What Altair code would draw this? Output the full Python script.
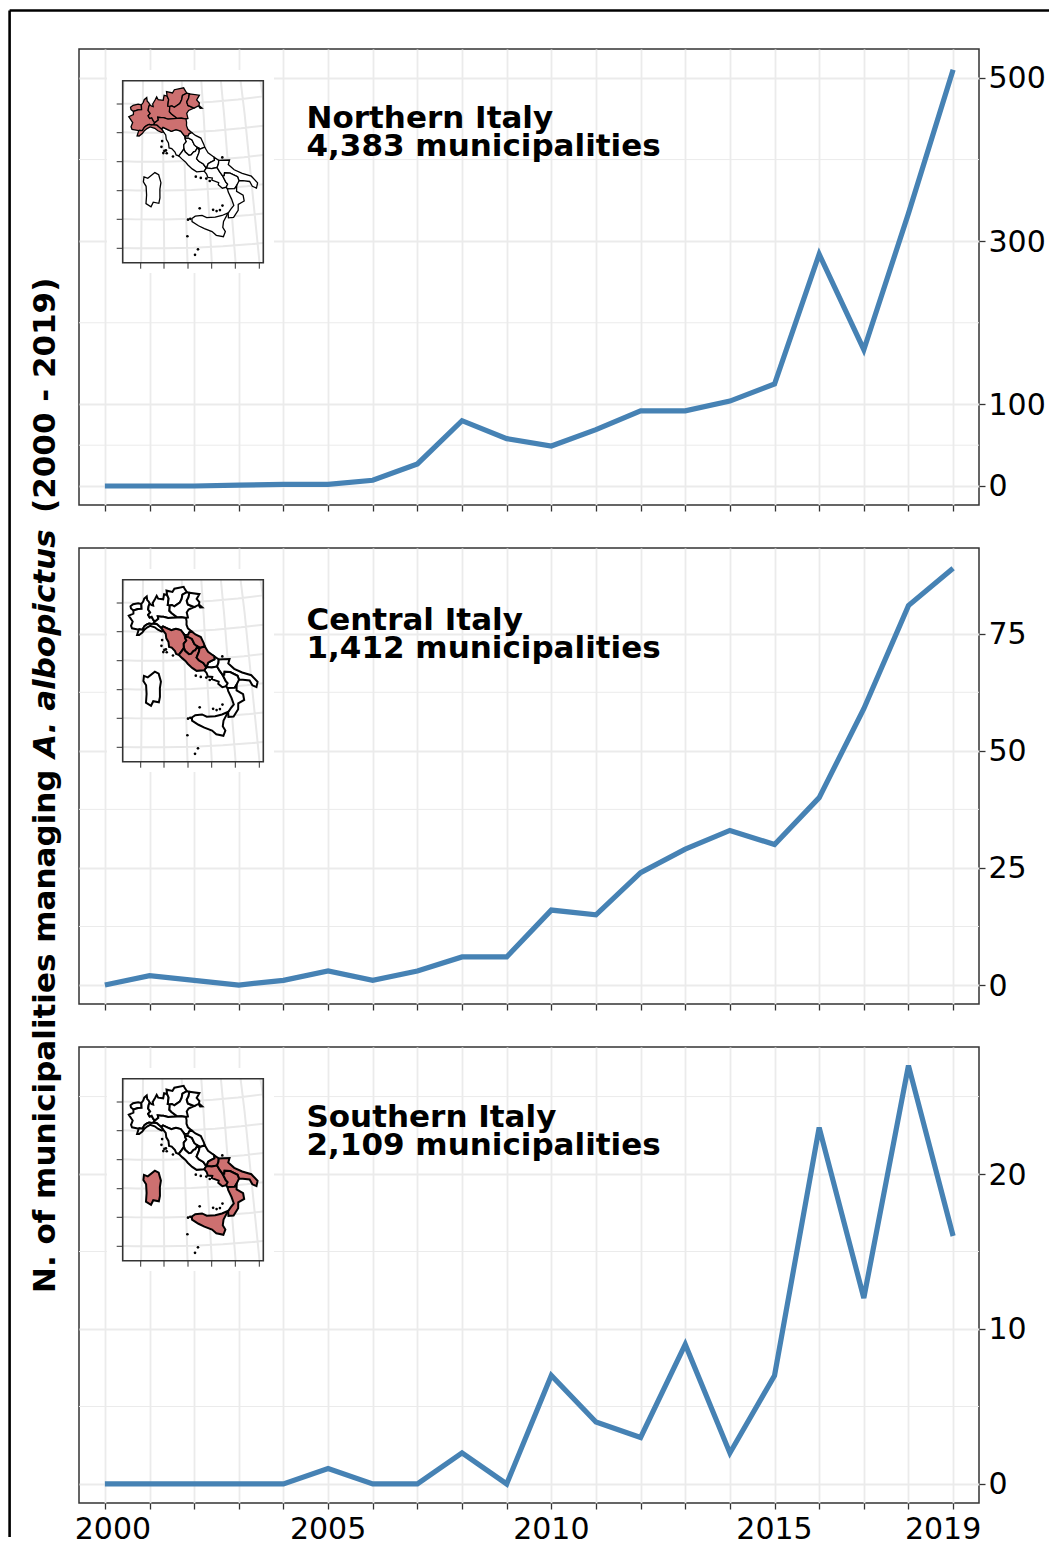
import altair as alt

YEARS = list(range(2000, 2020))
NORTH = [0, 0, 0, 1, 2, 2, 7, 27, 80, 58, 49, 69, 92, 92, 104, 125, 284, 167, 334, 510]
CENTRAL = [0, 2, 1, 0, 1, 3, 1, 3, 6, 6, 16, 15, 24, 29, 33, 30, 40, 59, 81, 89]
SOUTH = [0, 0, 0, 0, 0, 1, 0, 0, 2, 0, 7, 4, 3, 9, 2, 7, 23, 12, 27, 16]

NORTH_TICKS = [0, 100, 300, 500]
CENTRAL_TICKS = [0, 25, 50, 75]
SOUTH_TICKS = [0, 10, 20]
NORTH_MINOR = [50, 200, 400]
CENTRAL_MINOR = [12.5, 37.5, 62.5]
SOUTH_MINOR = [5, 15, 25]
NORTH_DOMAIN = [-23.3, 535.5]
CENTRAL_DOMAIN = [-4.05, 93.3]
SOUTH_DOMAIN = [-1.23, 28.2]
CENTER_LABEL_YEARS = [2005, 2010, 2015]

# Region outlines, longitude / latitude
AOSTA = [(6.8,45.75),(7.05,45.9),(7.55,45.98),(7.87,45.93),(7.9,45.6),(7.55,45.58),(7.1,45.47),(6.85,45.6)]
PIEMONTE = [(7.1,45.47),(7.55,45.58),(7.9,45.6),(7.87,45.93),(8.05,46.1),(8.15,46.3),(8.4,46.45),(8.45,46.2),(8.6,46.1),(8.7,45.95),(8.6,45.8),(8.55,45.55),(8.75,45.35),(8.55,45.18),(8.7,45.0),(8.9,45.05),(9.05,44.85),(9.2,44.7),(9.1,44.58),(8.9,44.55),(8.65,44.58),(8.4,44.5),(8.2,44.4),(8.0,44.15),(7.7,44.17),(7.65,44.15),(7.0,44.23),(6.9,44.4),(7.05,44.7),(6.75,45.0),(6.65,45.1),(7.1,45.25)]
LIGURIA = [(7.5,43.78),(7.7,43.78),(8.0,43.95),(8.2,44.15),(8.45,44.3),(8.75,44.42),(9.2,44.32),(9.5,44.15),(9.85,44.03),(10.05,44.05),(9.85,44.27),(9.6,44.42),(9.4,44.55),(9.1,44.58),(8.9,44.55),(8.65,44.58),(8.4,44.5),(8.2,44.4),(8.0,44.15),(7.7,44.17),(7.65,44.15)]
LOMBARDIA = [(8.55,45.55),(8.6,45.8),(8.7,45.95),(8.9,45.85),(9.05,45.82),(9.0,46.0),(9.25,46.3),(9.4,46.5),(9.55,46.3),(10.05,46.25),(10.15,46.6),(10.45,46.55),(10.6,46.3),(10.55,46.1),(10.5,45.85),(10.7,45.82),(10.65,45.45),(10.85,45.3),(11.2,45.1),(11.4,44.98),(10.5,44.95),(10.05,45.05),(9.85,45.05),(9.5,45.08),(9.55,44.9),(9.2,44.7),(9.05,44.85),(8.9,45.05),(8.7,45.0),(8.55,45.18),(8.75,45.35)]
TRENTINO = [(10.45,46.55),(10.4,46.85),(11.0,46.75),(11.2,46.97),(12.15,47.08),(12.2,47.0),(12.45,46.7),(12.0,46.55),(11.9,46.25),(11.7,46.0),(11.15,45.75),(10.9,45.85),(10.7,45.82),(10.5,45.85),(10.55,46.1),(10.6,46.3)]
VENETO = [(12.45,46.7),(12.7,46.65),(12.6,46.35),(12.4,46.1),(12.5,45.85),(13.1,45.65),(12.55,45.5),(12.35,45.3),(12.45,44.95),(12.25,44.92),(11.8,44.98),(11.4,44.98),(11.2,45.1),(10.85,45.3),(10.65,45.45),(10.7,45.82),(10.9,45.85),(11.15,45.75),(11.7,46.0),(11.9,46.25),(12.0,46.55)]
FRIULI = [(12.7,46.65),(13.7,46.52),(13.4,46.2),(13.65,45.98),(13.6,45.8),(13.9,45.6),(13.7,45.6),(13.55,45.78),(13.1,45.65),(12.5,45.85),(12.4,46.1),(12.6,46.35)]
EMILIA = [(9.2,44.7),(9.55,44.9),(9.5,45.08),(9.85,45.05),(10.05,45.05),(10.5,44.95),(11.4,44.98),(11.8,44.98),(12.25,44.92),(12.3,44.7),(12.28,44.45),(12.4,44.2),(12.75,43.97),(12.5,43.9),(12.4,43.75),(12.05,43.75),(11.7,44.1),(11.25,44.2),(10.8,44.1),(10.45,44.22),(10.0,44.38),(9.85,44.27),(9.6,44.42),(9.4,44.55),(9.1,44.58)]
TOSCANA = [(10.05,44.05),(10.25,43.85),(10.3,43.55),(10.5,43.3),(10.55,42.95),(10.8,42.9),(11.1,42.65),(11.2,42.45),(11.45,42.38),(11.75,42.65),(11.95,42.85),(11.95,43.15),(12.2,43.35),(12.1,43.55),(12.2,43.6),(12.05,43.75),(11.7,44.1),(11.25,44.2),(10.8,44.1),(10.45,44.22),(10.0,44.38),(9.85,44.27)]
UMBRIA = [(12.05,43.75),(12.2,43.6),(12.4,43.6),(12.75,43.45),(12.95,43.1),(13.25,42.9),(13.0,42.65),(12.85,42.62),(12.6,42.42),(12.4,42.4),(12.05,42.65),(11.95,42.85),(11.95,43.15),(12.2,43.35),(12.1,43.55)]
MARCHE = [(12.05,43.75),(12.4,43.75),(12.5,43.9),(12.75,43.97),(13.1,43.75),(13.6,43.55),(13.85,43.1),(13.92,42.9),(13.5,42.8),(13.25,42.9),(12.95,43.1),(12.75,43.45),(12.4,43.6),(12.2,43.6)]
LAZIO = [(11.45,42.38),(11.75,42.15),(12.05,41.95),(12.25,41.75),(12.65,41.45),(13.05,41.23),(13.75,41.25),(13.95,41.45),(13.7,41.75),(13.3,41.95),(13.1,42.15),(13.35,42.55),(13.4,42.7),(13.25,42.9),(13.0,42.65),(12.85,42.62),(12.6,42.42),(12.4,42.4),(12.05,42.65),(11.95,42.85),(11.75,42.65)]
ABRUZZO = [(13.92,42.9),(14.2,42.5),(14.75,42.17),(14.75,41.95),(14.4,41.85),(14.15,41.75),(14.0,41.5),(13.95,41.45),(13.7,41.75),(13.3,41.95),(13.1,42.15),(13.35,42.55),(13.4,42.7),(13.25,42.9),(13.5,42.8)]
MOLISE = [(14.75,42.17),(15.15,41.93),(15.1,41.7),(14.95,41.45),(14.45,41.4),(14.05,41.45),(14.0,41.5),(14.15,41.75),(14.4,41.85),(14.75,41.95)]
CAMPANIA = [(13.75,41.25),(13.95,41.05),(14.05,40.8),(14.45,40.75),(14.4,40.6),(15.0,40.4),(14.95,40.25),(15.3,40.0),(15.65,40.05),(15.8,40.25),(15.65,40.4),(15.4,40.85),(15.15,41.15),(15.05,41.3),(14.95,41.45),(14.45,41.4),(14.05,41.45),(13.95,41.45)]
PUGLIA = [(15.15,41.93),(15.55,41.92),(16.15,41.9),(16.0,41.6),(16.5,41.2),(17.2,40.9),(18.0,40.65),(18.5,40.15),(18.35,39.8),(18.0,39.95),(17.8,40.3),(17.2,40.4),(16.85,40.42),(16.75,40.7),(16.1,41.0),(15.6,41.05),(15.55,40.85),(15.4,40.85),(15.15,41.15),(15.05,41.3),(14.95,41.45),(15.1,41.7)]
BASILICATA = [(15.4,40.85),(15.55,40.85),(15.6,41.05),(16.1,41.0),(16.75,40.7),(16.85,40.42),(16.6,40.1),(16.4,39.9),(15.75,39.92),(15.65,40.05),(15.8,40.25),(15.65,40.4)]
CALABRIA = [(15.75,39.92),(16.4,39.9),(16.6,40.1),(16.55,39.7),(17.1,39.4),(17.15,39.0),(16.6,38.8),(16.55,38.4),(16.1,37.93),(15.65,37.93),(15.65,38.25),(15.9,38.5),(16.2,38.75),(16.05,39.2),(15.8,39.7)]
SICILIA = [(15.65,38.27),(15.1,38.12),(14.5,38.03),(13.75,38.03),(13.35,38.2),(12.75,38.17),(12.45,38.02),(12.45,37.8),(13.0,37.5),(13.5,37.28),(14.15,37.05),(14.5,36.78),(15.1,36.65),(15.3,37.0),(15.1,37.3),(15.2,37.7)]
SARDEGNA = [(8.2,40.95),(8.55,40.85),(9.2,41.25),(9.55,41.1),(9.75,40.55),(9.65,40.1),(9.65,39.5),(9.55,39.12),(9.05,39.2),(8.85,38.88),(8.4,39.1),(8.45,39.7),(8.4,40.3),(8.15,40.6)]

ISLAND_LON = [10.25, 10.1, 9.83, 9.9, 10.9, 10.32, 10.0, 12.95, 13.4, 13.9, 14.2, 15.5, 12.1, 12.3, 13.17, 14.35, 14.95, 15.2, 14.65, 12.0, 12.6, 12.87]
ISLAND_LAT = [42.78, 42.75, 43.03, 43.43, 42.35, 42.58, 42.6, 40.9, 40.8, 40.73, 40.55, 42.12, 37.95, 38.0, 38.7, 38.55, 38.5, 38.8, 38.45, 36.8, 35.5, 35.87]

NORTH_REGIONS = [AOSTA, PIEMONTE, LIGURIA, LOMBARDIA, TRENTINO, VENETO, FRIULI, EMILIA]
CENTRAL_REGIONS = [TOSCANA, UMBRIA, MARCHE, LAZIO, ABRUZZO]
SOUTH_REGIONS = [MOLISE, CAMPANIA, PUGLIA, BASILICATA, CALABRIA, SICILIA, SARDEGNA]

INSET_LEFT_TICKS = [55, 83.7, 112.7, 141.7, 170.3, 199.3]
INSET_BOTTOM_TICKS = [61.7, 85, 109, 132.7, 156.3, 180.3]

W, H = 900, 456
BLANK = alt.Data(values=[{}])
FONT = "DejaVu Sans"


def feature(ring, shaded):
    area = sum(ring[i][0] * ring[(i + 1) % len(ring)][1] - ring[(i + 1) % len(ring)][0] * ring[i][1]
               for i in range(len(ring)))
    pts = list(ring) + [ring[0]]
    if area > 0:  # exterior rings must run clockwise on the sphere
        pts = pts[::-1]
    return {"type": "Feature", "properties": {"shaded": shaded},
            "geometry": {"type": "Polygon", "coordinates": [[list(p) for p in pts]]}}


def region_data(shaded_regions, others):
    feats = [feature(r, 0) for r in others] + [feature(r, 1) for r in shaded_regions]
    return alt.Data(values=feats)


def panel(values, domain, ticks, minor, shaded, others, line1, line2, ty, stroke, bottom=False, extra=None):
    proj = alt.Projection(type="transverseMercator", rotate=[-9, 0], scale=827,
                          translate=[73.7, 719],
                          clipExtent=[[43.7, 31.7], [184.3, 213.7]])
    xs = alt.Scale(domain=[1999.42, 2019.58], nice=False, zero=False)
    ys = alt.Scale(domain=domain, nice=False, zero=False)
    xaxis = alt.Axis(values=YEARS, labels=False, title=None, tickSize=6, tickColor="#333333", tickWidth=1.3,
                     domain=False, grid=True, gridColor="#ebebeb", gridWidth=1.8)
    yaxis = alt.Axis(values=ticks, orient="right", title=None, tickSize=6, tickColor="#333333", tickWidth=1.3,
                     domain=False, grid=True, gridColor="#ebebeb", gridWidth=1.8, labelFont=FONT,
                     labelFontSize=30, labelColor="black", labelPadding=3, labelOffset=1, format="d")
    rows = [{"year": y, "v": v} for y, v in zip(YEARS, values)]

    minor_layer = alt.Chart(alt.Data(values=[{"m": m} for m in minor])).mark_rule(
        color="#ebebeb", strokeWidth=1).encode(y=alt.Y("m:Q", scale=ys, axis=yaxis))
    white = alt.Chart(BLANK).mark_rect(color="white").encode(
        x=alt.value(28), x2=alt.value(195), y=alt.value(21), y2=alt.value(224))
    grat = alt.Chart(alt.graticule(step=[2, 2])).mark_geoshape(
        filled=False, stroke="#e8e8e8", strokeWidth=2).project(**proj.to_dict())
    shapes_w = alt.Chart(region_data([], others)).mark_geoshape(
        fill="white", stroke="black", strokeWidth=stroke).project(**proj.to_dict())
    shapes_s = alt.Chart(region_data(shaded, [])).mark_geoshape(
        fill="#cd7070", stroke="black", strokeWidth=stroke).project(**proj.to_dict())
    isl = alt.Chart(alt.Data(values=[{"lon": a, "lat": b} for a, b in zip(ISLAND_LON, ISLAND_LAT)])).mark_circle(
        color="black", size=7, opacity=1).encode(longitude="lon:Q", latitude="lat:Q").project(**proj.to_dict())
    frame = alt.Chart(BLANK).mark_rect(fill=None, stroke="#333333", strokeWidth=1.6).encode(
        x=alt.value(43.7), x2=alt.value(184.3), y=alt.value(31.7), y2=alt.value(213.7))
    ticks_l = [alt.Chart(BLANK).mark_rule(color="#333333", strokeWidth=1).encode(
        x=alt.value(37.7), x2=alt.value(43.7), y=alt.value(t)) for t in INSET_LEFT_TICKS]
    ticks_b = [alt.Chart(BLANK).mark_rule(color="#333333", strokeWidth=1).encode(
        x=alt.value(t), y=alt.value(213.7), y2=alt.value(219.7)) for t in INSET_BOTTOM_TICKS]
    line = alt.Chart(alt.Data(values=rows)).mark_line(color="#4682b4", strokeWidth=5.2, strokeCap="butt").encode(
        x=alt.X("year:Q", scale=xs, axis=xaxis), y=alt.Y("v:Q", scale=ys, axis=yaxis))
    t1 = alt.Chart(BLANK).mark_text(text=line1, font=FONT, fontWeight="bold", fontSize=31, align="left",
                                    baseline="middle", color="black").encode(x=alt.value(227.5), y=alt.value(ty))
    t2 = alt.Chart(BLANK).mark_text(text=line2, font=FONT, fontWeight="bold", fontSize=31, align="left",
                                    baseline="middle", color="black").encode(x=alt.value(227.5), y=alt.value(ty + 28))
    layers = [minor_layer, line, white, grat, shapes_w, shapes_s, isl, frame] + ticks_l + ticks_b + [t1, t2]
    if bottom:
        def lab(yrs, dx):
            return alt.Chart(alt.Data(values=[{"y": y, "t": str(y)} for y in yrs])).mark_text(
                font=FONT, fontSize=30, color="black", dx=dx, baseline="middle", align="center").encode(
                x=alt.X("y:Q", scale=xs), y=alt.value(483), text="t:N")
        layers += [lab(CENTER_LABEL_YEARS, 0), lab([YEARS[0]], 8), lab([YEARS[-1]], -10)]
    if extra:
        layers += extra
    return alt.layer(*layers).properties(width=W, height=H)


def ytitle(text, y, style="normal"):
    return alt.Chart(BLANK).mark_text(text=text, font=FONT, fontWeight="bold", fontStyle=style, fontSize=31,
                                       angle=270, align="left", baseline="middle", color="black").encode(
        x=alt.value(-33), y=alt.value(y))


outer = [
    alt.Chart(BLANK).mark_rule(color="black", strokeWidth=2.6).encode(
        x=alt.value(-69.4), x2=alt.value(970), y=alt.value(-38.5)),
    alt.Chart(BLANK).mark_rule(color="black", strokeWidth=2.6).encode(
        x=alt.value(-69.4), y=alt.value(-38.5), y2=alt.value(1488)),
]
titles = [
    ytitle("N. of municipalities managing", 745),
    ytitle("A. albopictus", 210, "italic"),
    ytitle("(2000 - 2019)", -35),
]

p1 = panel(NORTH, NORTH_DOMAIN, NORTH_TICKS, NORTH_MINOR, NORTH_REGIONS, CENTRAL_REGIONS + SOUTH_REGIONS,
           "Northern Italy", "4,383 municipalities", 70, 1.3, extra=outer)
p2 = panel(CENTRAL, CENTRAL_DOMAIN, CENTRAL_TICKS, CENTRAL_MINOR, CENTRAL_REGIONS, NORTH_REGIONS + SOUTH_REGIONS,
           "Central Italy", "1,412 municipalities", 73, 2, extra=titles)
p3 = panel(SOUTH, SOUTH_DOMAIN, SOUTH_TICKS, SOUTH_MINOR, SOUTH_REGIONS, NORTH_REGIONS + CENTRAL_REGIONS,
           "Southern Italy", "2,109 municipalities", 71, 2, bottom=True)

chart = alt.vconcat(p1, p2, p3, spacing=43, bounds="flush", background="white",
                    padding={"left": -1, "top": 0, "right": 0, "bottom": 0}
                    ).configure_view(stroke="#333333", strokeWidth=1.5)
chart.save("out.html", embed_options={"renderer": "svg", "actions": False})
